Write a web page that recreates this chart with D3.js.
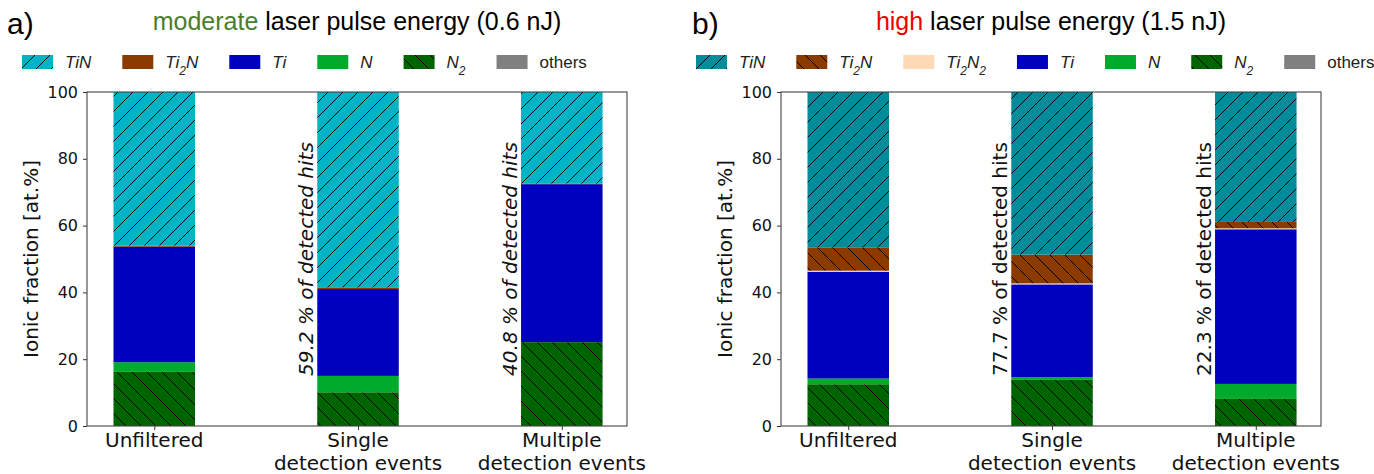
<!DOCTYPE html>
<html>
<head>
<meta charset="utf-8">
<script src="https://cdn.jsdelivr.net/npm/d3@7"></script>
<style>
  body { margin: 0; background: #fff; }
  svg { display: block; }
</style>
</head>
<body>
<svg id="chart" width="1374" height="474"></svg>
<script>

// categories on the x axis (one entry per line of the tick label)
const categories = [["Unfiltered"], ["Single", "detection events"], ["Multiple", "detection events"]]
const yTicks = [0, 20, 40, 60, 80, 100]

// a) moderate laser pulse energy (0.6 nJ), ionic fraction in at.%
const modN2     = [16.2, 10.1, 25.1]
const modN      = [2.9, 4.9, 0.0]
const modTi     = [34.6, 26.0, 47.3]
const modTi2N   = [0.3, 0.5, 0.2]
const modTiN    = [46.0, 58.5, 27.4]
const modOthers = [0, 0, 0]
const modHits   = ["", "59.2 % of detected hits", "40.8 % of detected hits"]

// b) high laser pulse energy (1.5 nJ)
const highN2     = [12.5, 13.8, 8.1]
const highN      = [1.7, 0.8, 4.5]
const highTi     = [32.0, 27.8, 46.3]
const highTi2N2  = [0.3, 0.3, 0.3]
const highTi2N   = [7.0, 8.6, 1.9]
const highTiN    = [46.5, 48.7, 38.9]
const highOthers = [0, 0, 0]
const highHits   = ["", "77.7 % of detected hits", "22.3 % of detected hits"]

const svg = d3.select("#chart")
const defs = svg.append("defs")

const plotTop = 92, plotBottom = 426, plotW = 540
const y = d3.scaleLinear().domain([0, 100]).range([plotBottom, plotTop])
const headFont = "Liberation Sans, Arial, sans-serif"

// legend / stack entries; label uses {} for subscripts
const panels = [
  {
    id: "a", letter: "a)", left: 87, letterX: 7, legendX: 22, italicHits: true,
    title: [["moderate", "#4a7d2c"], [" laser pulse energy (0.6 nJ)", "#000"]],
    hits: modHits,
    series: [
      { key: "TiN",    label: "TiN",      color: "#00b3c6", hatch: "/",  values: modTiN },
      { key: "Ti2N",   label: "Ti{2}N",   color: "#8b3a00", hatch: null, values: modTi2N },
      { key: "Ti",     label: "Ti",       color: "#0000bf", hatch: null, values: modTi },
      { key: "N",      label: "N",        color: "#00ab2c", hatch: null, values: modN },
      { key: "N2",     label: "N{2}",     color: "#006400", hatch: "\\", values: modN2 },
      { key: "others", label: "others",   color: "#808080", hatch: null, values: modOthers, plain: true }
    ]
  },
  {
    id: "b", letter: "b)", left: 781, letterX: 692, legendX: 696, italicHits: false,
    title: [["high", "#ee0000"], [" laser pulse energy (1.5 nJ)", "#000"]],
    hits: highHits,
    series: [
      { key: "TiN",    label: "TiN",      color: "#008c9b", hatch: "/",  values: highTiN },
      { key: "Ti2N",   label: "Ti{2}N",   color: "#8b3a00", hatch: "\\", values: highTi2N },
      { key: "Ti2N2",  label: "Ti{2}N{2}", color: "#ffd8b5", hatch: null, values: highTi2N2 },
      { key: "Ti",     label: "Ti",       color: "#0000bf", hatch: null, values: highTi },
      { key: "N",      label: "N",        color: "#00ab2c", hatch: null, values: highN },
      { key: "N2",     label: "N{2}",     color: "#006400", hatch: "\\", values: highN2 },
      { key: "others", label: "others",   color: "#808080", hatch: null, values: highOthers, plain: true }
    ]
  }
]

// hatch pattern: coloured background plus thin black diagonals, like matplotlib
function fillFor(panelId, s) {
  if (!s.hatch) return s.color
  const id = `hatch-${panelId}-${s.key}`
  const size = 15
  const p = defs.append("pattern")
    .attr("id", id)
    .attr("patternUnits", "userSpaceOnUse")
    .attr("width", size).attr("height", size)
  p.append("rect").attr("width", size).attr("height", size).attr("fill", s.color)
  const d = s.hatch === "/"
    ? `M0,${size} L${size},0 M-4,4 L4,-4 M${size - 4},${size + 4} L${size + 4},${size - 4}`
    : `M0,0 L${size},${size} M-4,${size - 4} L4,${size + 4} M${size - 4},-4 L${size + 4},4`
  p.append("path").attr("d", d).attr("stroke", "#000").attr("stroke-width", 1)
  return `url(#${id})`
}

function writeLabel(text, label, italic) {
  label.split(/(\{[^}]*\})/).filter(t => t).forEach(part => {
    if (part.startsWith("{")) {
      text.append("tspan").text(part.slice(1, -1))
        .attr("font-size", 12).attr("baseline-shift", "sub")
    } else {
      text.append("tspan").text(part)
    }
  })
  text.attr("font-style", italic ? "italic" : "normal")
}

panels.forEach(panel => {
  const g = svg.append("g")
  const x = d3.scaleLinear().domain([-0.33, 2.32]).range([panel.left, panel.left + plotW])
  const barW = x(0.4) - x(0)

  panel.series.forEach(s => s.fill = fillFor(panel.id, s))

  // stack bottom-up: reverse legend order, "others" on top
  const stackKeys = panel.series.filter(s => !s.plain).map(s => s.key).reverse()
    .concat(panel.series.filter(s => s.plain).map(s => s.key))
  const rows = categories.map((c, i) => {
    const r = { idx: i }
    panel.series.forEach(s => r[s.key] = s.values[i])
    return r
  })
  const stacked = d3.stack().keys(stackKeys)(rows)
  const byKey = Object.fromEntries(panel.series.map(s => [s.key, s]))

  g.selectAll("g.layer")
    .data(stacked)
    .join("g")
      .attr("class", "layer")
      .attr("fill", d => byKey[d.key].fill)
    .selectAll("rect")
    .data(d => d)
    .join("rect")
      .attr("x", d => x(d.data.idx) - barW / 2)
      .attr("width", barW)
      .attr("y", d => y(d[1]))
      .attr("height", d => y(d[0]) - y(d[1]))

  // axes
  const yAxis = g.append("g")
    .attr("transform", `translate(${panel.left},0)`)
    .call(d3.axisLeft(y).tickValues(yTicks).tickSize(4).tickPadding(5))
  yAxis.select(".domain").remove()
  yAxis.selectAll("text")
    .attr("font-family", "DejaVu Sans").attr("font-size", 16).attr("fill", "#111")
  yAxis.selectAll("line").attr("stroke", "#333")

  const xAxis = g.append("g")
    .attr("transform", `translate(0,${plotBottom})`)
    .call(d3.axisBottom(x).tickValues([0, 1, 2]).tickSize(4).tickFormat(""))
  xAxis.select(".domain").remove()
  xAxis.selectAll("line").attr("stroke", "#333")

  g.selectAll("text.xlab")
    .data(categories)
    .join("text")
      .attr("class", "xlab")
      .attr("text-anchor", "middle")
      .attr("font-family", "DejaVu Sans")
      .attr("font-size", 20)
      .attr("fill", "#111")
    .each(function (lines, i) {
      d3.select(this).selectAll("tspan")
        .data(lines)
        .join("tspan")
          .attr("x", x(i))
          .attr("y", (l, j) => 447 + j * 22.5)
          .text(l => l)
    })

  // frame
  g.append("rect")
    .attr("x", panel.left).attr("y", plotTop)
    .attr("width", plotW).attr("height", plotBottom - plotTop)
    .attr("fill", "none").attr("stroke", "#444").attr("stroke-width", 1.1)

  // y label
  g.append("text")
    .attr("transform", `translate(${panel.left - 49},${(plotTop + plotBottom) / 2}) rotate(-90)`)
    .attr("text-anchor", "middle")
    .attr("font-family", "DejaVu Sans")
    .attr("font-size", 20)
    .attr("fill", "#111")
    .text("Ionic fraction [at.%]")

  // share of detected hits, written up the side of the bar
  g.selectAll("text.hits")
    .data(panel.hits.map((t, i) => ({ t, i })).filter(d => d.t))
    .join("text")
      .attr("class", "hits")
      .attr("transform", d => `translate(${x(d.i - 0.22)},${y(15)}) rotate(-90)`)
      .attr("font-family", "DejaVu Sans")
      .attr("font-size", 20)
      .attr("font-style", panel.italicHits ? "italic" : "normal")
      .attr("fill", "#111")
      .text(d => d.t)

  // panel letter and title
  g.append("text")
    .attr("x", panel.letterX).attr("y", 34)
    .attr("font-family", headFont)
    .attr("font-size", 30)
    .text(panel.letter)

  const title = g.append("text")
    .attr("x", panel.left + plotW / 2).attr("y", 30)
    .attr("text-anchor", "middle")
    .attr("font-family", headFont)
    .attr("font-size", 25)
  panel.title.forEach(([t, c]) => title.append("tspan").attr("fill", c).text(t))

  // legend row
  let lx = panel.legendX
  panel.series.forEach(s => {
    const item = g.append("g")
    item.append("rect")
      .attr("x", lx).attr("y", 55)
      .attr("width", 31).attr("height", 14)
      .attr("fill", s.fill)
    const t = item.append("text")
      .attr("x", lx + 43).attr("y", 68)
      .attr("font-family", headFont)
      .attr("font-size", 17)
      .attr("fill", "#222")
    writeLabel(t, s.label, !s.plain)
    lx += 43 + t.node().getComputedTextLength() + 31
  })
})

</script>
</body>
</html>
